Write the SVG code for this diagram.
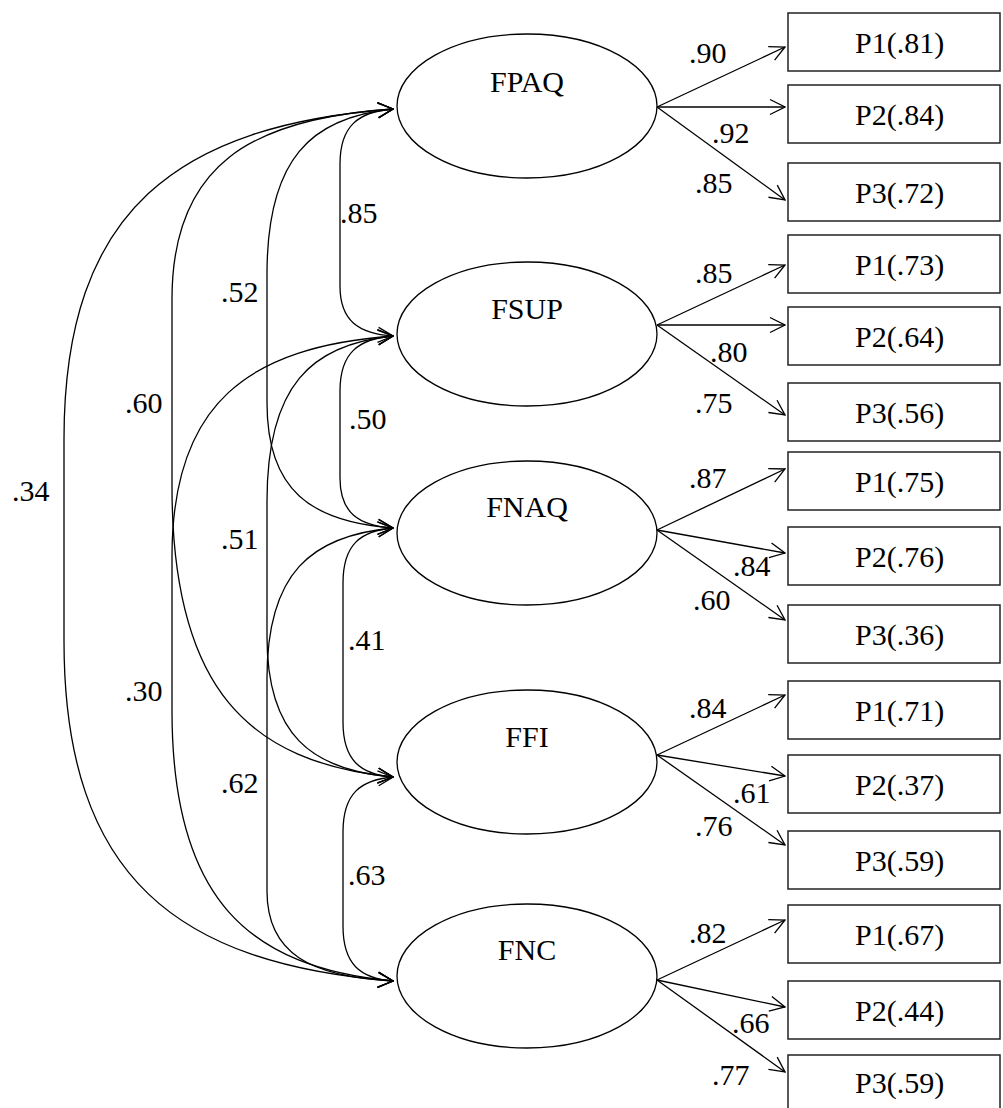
<svg xmlns="http://www.w3.org/2000/svg" width="1003" height="1108" viewBox="0 0 1003 1108">
<style>
text{font-family:"Liberation Serif","Times New Roman",serif;font-size:30px;fill:#000}
.c{text-anchor:middle}
.e{fill:#fff;stroke:#000;stroke-width:1.3}
.b{fill:#fff;stroke:#222;stroke-width:1.5}
.l{fill:none;stroke:#000;stroke-width:1.3}
.cov{marker-start:url(#ah);marker-end:url(#ah)}
.ld{marker-end:url(#ah)}
</style>
<defs>
<marker id="ah" viewBox="-17 -9 18 18" refX="0" refY="0" markerWidth="18" markerHeight="18" markerUnits="userSpaceOnUse" orient="auto-start-reverse">
<path d="M-15,-7.5 L0,0 L-15,7.5" fill="none" stroke="#000" stroke-width="1.3"/>
</marker>
</defs>
<rect width="1003" height="1108" fill="#fff"/>
<g id="connectors">
<path class="l cov" d="M393,109 C358.6,111.8 340,125.5 340,164 L340,286 C340,321 358.6,333.5 393,336"/>
<path class="l cov" d="M393,336 C358.6,338.8 340,352.5 340,391 L340,478 C340,513 358.6,525.5 393,528"/>
<path class="l cov" d="M393,528 C360.5,530.8 343,544.5 343,583 L343,722 C343,760.5 360.5,774.3 393,777"/>
<path class="l cov" d="M393,777 C360.5,779.8 343,793.5 343,832 L343,926 C343,964.5 360.5,978.3 393,981"/>
<path class="l cov" d="M393,109 C311.1,117.3 267,158.5 267,274 L267,403 C267,490.5 311.1,521.8 393,528"/>
<path class="l cov" d="M393,336 C311.1,344.3 267,385.5 267,501 L267,637 C267,735 311.1,770 393,777"/>
<path class="l cov" d="M393,528 C311.1,535.5 267,573 267,678 L267,891 C267,954 311.1,976.5 393,981"/>
<path class="l cov" d="M393,109 C249.4,118.5 172,166 172,299 L172,487 C172,690 249.4,762.5 393,777"/>
<path class="l cov" d="M393,336 C249.4,347 172,402 172,556 L172,711 C172,900 249.4,967.5 393,981"/>
<path class="l cov" d="M393,109 C179.2,125.5 64,208 64,439 L64,641 C64,879 179.2,964 393,981"/>
<line class="l ld" x1="657" y1="107" x2="785" y2="47"/>
<line class="l ld" x1="657" y1="107" x2="785" y2="107"/>
<line class="l ld" x1="657" y1="107" x2="785" y2="200"/>
<line class="l ld" x1="657" y1="325" x2="785" y2="265"/>
<line class="l ld" x1="657" y1="325" x2="785" y2="325"/>
<line class="l ld" x1="657" y1="325" x2="785" y2="415"/>
<line class="l ld" x1="657" y1="530" x2="785" y2="469"/>
<line class="l ld" x1="657" y1="530" x2="785" y2="553"/>
<line class="l ld" x1="657" y1="530" x2="785" y2="620"/>
<line class="l ld" x1="657" y1="755" x2="785" y2="695"/>
<line class="l ld" x1="657" y1="755" x2="785" y2="776"/>
<line class="l ld" x1="657" y1="755" x2="785" y2="845"/>
<line class="l ld" x1="657" y1="980" x2="785" y2="920"/>
<line class="l ld" x1="657" y1="980" x2="785" y2="1007"/>
<line class="l ld" x1="657" y1="980" x2="785" y2="1072"/>
<text x="340" y="223">.85</text>
<text x="349" y="429">.50</text>
<text x="348" y="650">.41</text>
<text x="348" y="885">.63</text>
<text x="221" y="302">.52</text>
<text x="221" y="549">.51</text>
<text x="221" y="793">.62</text>
<text x="125" y="413">.60</text>
<text x="125" y="701">.30</text>
<text x="12" y="501">.34</text>
<text x="689" y="63">.90</text>
<text x="712" y="143">.92</text>
<text x="695" y="193">.85</text>
<text x="695" y="283">.85</text>
<text x="710" y="362">.80</text>
<text x="695" y="413">.75</text>
<text x="689" y="488">.87</text>
<text x="733" y="576">.84</text>
<text x="693" y="610">.60</text>
<text x="689" y="718">.84</text>
<text x="733" y="803">.61</text>
<text x="695" y="836">.76</text>
<text x="689" y="943">.82</text>
<text x="732" y="1033">.66</text>
<text x="712" y="1085">.77</text>
</g>
<g id="FPAQ"><ellipse class="e" cx="527" cy="106" rx="130" ry="72"/><text class="c" x="527" y="92">FPAQ</text></g>
<g id="FSUP"><ellipse class="e" cx="527" cy="334" rx="130" ry="72"/><text class="c" x="527" y="319">FSUP</text></g>
<g id="FNAQ"><ellipse class="e" cx="527" cy="533" rx="130" ry="72"/><text class="c" x="527" y="517">FNAQ</text></g>
<g id="FFI"><ellipse class="e" cx="527" cy="762" rx="130" ry="72"/><text class="c" x="527" y="747">FFI</text></g>
<g id="FNC"><ellipse class="e" cx="527" cy="976" rx="130" ry="72"/><text class="c" x="527" y="960">FNC</text></g>
<g id="FPAQ_P1"><rect class="b" x="788" y="13" width="212" height="58"/><text x="855" y="53">P1(.81)</text></g>
<g id="FPAQ_P2"><rect class="b" x="788" y="85" width="212" height="58"/><text x="855" y="125">P2(.84)</text></g>
<g id="FPAQ_P3"><rect class="b" x="788" y="163" width="212" height="58"/><text x="855" y="203">P3(.72)</text></g>
<g id="FSUP_P1"><rect class="b" x="788" y="235" width="212" height="58"/><text x="855" y="275">P1(.73)</text></g>
<g id="FSUP_P2"><rect class="b" x="788" y="307" width="212" height="58"/><text x="855" y="347">P2(.64)</text></g>
<g id="FSUP_P3"><rect class="b" x="788" y="383" width="212" height="58"/><text x="855" y="423">P3(.56)</text></g>
<g id="FNAQ_P1"><rect class="b" x="788" y="452" width="212" height="58"/><text x="855" y="492">P1(.75)</text></g>
<g id="FNAQ_P2"><rect class="b" x="788" y="527" width="212" height="58"/><text x="855" y="567">P2(.76)</text></g>
<g id="FNAQ_P3"><rect class="b" x="788" y="605" width="212" height="58"/><text x="855" y="645">P3(.36)</text></g>
<g id="FFI_P1"><rect class="b" x="788" y="681" width="212" height="58"/><text x="855" y="721">P1(.71)</text></g>
<g id="FFI_P2"><rect class="b" x="788" y="755" width="212" height="58"/><text x="855" y="795">P2(.37)</text></g>
<g id="FFI_P3"><rect class="b" x="788" y="831" width="212" height="58"/><text x="855" y="871">P3(.59)</text></g>
<g id="FNC_P1"><rect class="b" x="788" y="905" width="212" height="58"/><text x="855" y="945">P1(.67)</text></g>
<g id="FNC_P2"><rect class="b" x="788" y="981" width="212" height="58"/><text x="855" y="1021">P2(.44)</text></g>
<g id="FNC_P3"><rect class="b" x="788" y="1055" width="212" height="58"/><text x="855" y="1093">P3(.59)</text></g>
</svg>
